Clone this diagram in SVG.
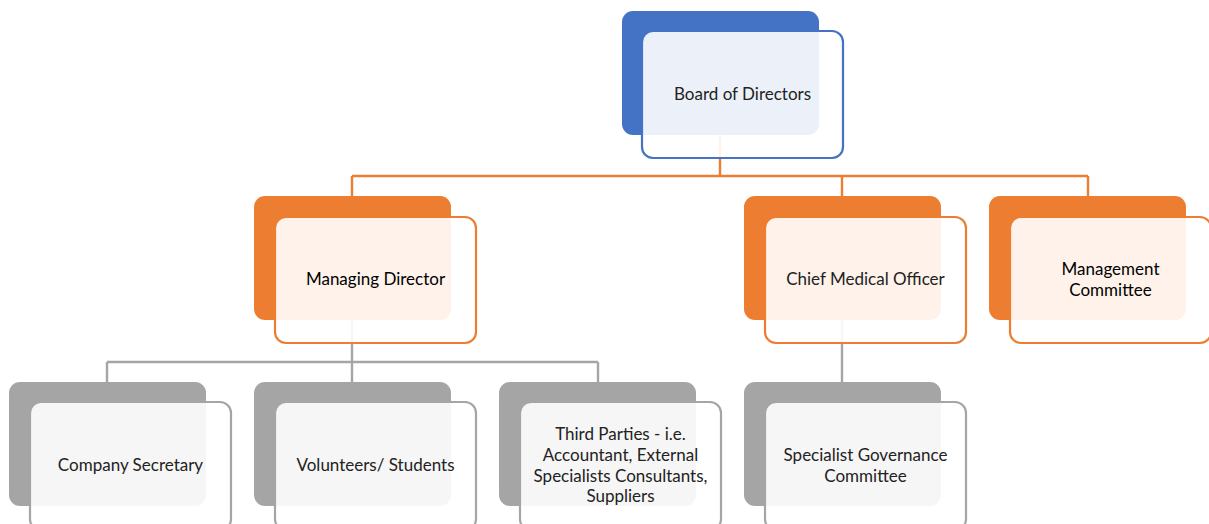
<svg xmlns="http://www.w3.org/2000/svg" width="1209" height="524" viewBox="0 0 1209 524">
  <style>
    .back { stroke: none; }
    .front { fill: #ffffff; fill-opacity: 0.9; stroke-width: 2.2; }
    .blue .back { fill: #4472C4; }
    .blue .front { stroke: #4472C4; }
    .orange .back { fill: #ED7D31; }
    .orange .front { stroke: #ED7D31; }
    .gray .back { fill: #A5A5A5; }
    .gray .front { stroke: #A5A5A5; }
    .label { font-family: Lato, "Open Sans", "Liberation Sans", sans-serif; font-size: 17px; fill: #222222; text-anchor: middle; }
    .conn-o { stroke: #ED7D31; stroke-width: 2.4; fill: none; }
    .conn-g { stroke: #A5A5A5; stroke-width: 2.4; fill: none; }
  </style>

  <!-- back panels -->
  <g class="blue"><rect id="board-back" class="back" x="622" y="11" width="197" height="124" rx="11"/></g>
  <g class="orange">
    <rect id="md-back" class="back" x="254" y="196" width="197" height="124" rx="11"/>
    <rect id="cmo-back" class="back" x="744" y="196" width="197" height="124" rx="11"/>
    <rect id="mc-back" class="back" x="989" y="196" width="197" height="124" rx="11"/>
  </g>
  <g class="gray">
    <rect id="cs-back" class="back" x="9" y="382" width="197" height="124" rx="11"/>
    <rect id="vs-back" class="back" x="254" y="382" width="197" height="124" rx="11"/>
    <rect id="tp-back" class="back" x="499" y="382" width="197" height="124" rx="11"/>
    <rect id="sgc-back" class="back" x="744" y="382" width="197" height="124" rx="11"/>
  </g>

  <!-- connectors -->
  <g id="connectors">
    <path class="conn-o" d="M720 135 V176 M352 176 H1088 M352 176 V196 M842 176 V196 M1088 176 V196"/>
    <path class="conn-g" d="M352 320 V362 M107 362 H598 M107 362 V382 M352 362 V382 M598 362 V382"/>
    <path class="conn-g" d="M842 320 V382"/>
  </g>

  <!-- nodes -->
  <g id="board" class="blue">
    <rect class="front" x="642" y="31" width="201" height="127" rx="11"/>
    <text class="label" x="742.5" y="100">Board of Directors</text>
  </g>
  <g id="managing-director" class="orange">
    <rect class="front" x="275" y="217" width="201" height="126" rx="11"/>
    <text class="label" x="375.5" y="285" style="fill:#000">Managing Director</text>
  </g>
  <g id="chief-medical-officer" class="orange">
    <rect class="front" x="765" y="217" width="201" height="126" rx="11"/>
    <text class="label" x="865.5" y="285">Chief Medical Officer</text>
  </g>
  <g id="management-committee" class="orange">
    <rect class="front" x="1010" y="217" width="201" height="126" rx="11"/>
    <text class="label" x="1110.5" y="275" style="fill:#000">Management</text>
    <text class="label" x="1110.5" y="296" style="fill:#000">Committee</text>
  </g>
  <g id="company-secretary" class="gray">
    <rect class="front" x="30" y="402" width="201" height="128" rx="11"/>
    <text class="label" x="130.5" y="471">Company Secretary</text>
  </g>
  <g id="volunteers" class="gray">
    <rect class="front" x="275" y="402" width="201" height="128" rx="11"/>
    <text class="label" x="375.5" y="471">Volunteers/ Students</text>
  </g>
  <g id="third-parties" class="gray">
    <rect class="front" x="520" y="402" width="201" height="128" rx="11"/>
    <text class="label" x="620.5" y="440">Third Parties - i.e.</text>
    <text class="label" x="620.5" y="461">Accountant, External</text>
    <text class="label" x="620.5" y="482">Specialists Consultants,</text>
    <text class="label" x="620.5" y="502">Suppliers</text>
  </g>
  <g id="specialist-governance" class="gray">
    <rect class="front" x="765" y="402" width="201" height="128" rx="11"/>
    <text class="label" x="865.5" y="461">Specialist Governance</text>
    <text class="label" x="865.5" y="482">Committee</text>
  </g>
</svg>
